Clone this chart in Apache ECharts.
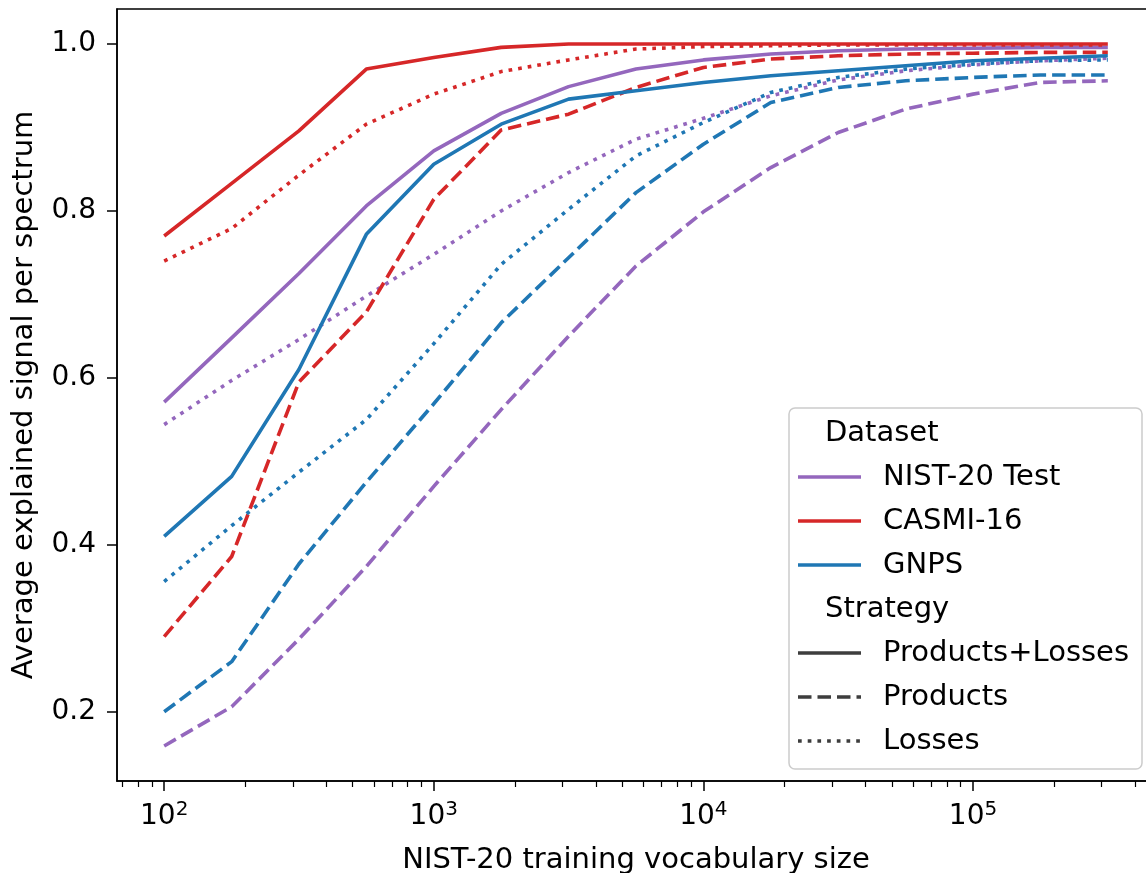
<!DOCTYPE html>
<html>
<head>
<meta charset="utf-8">
<script src="https://cdn.jsdelivr.net/npm/echarts@6/dist/echarts.min.js"></script>
<style>
  html, body { margin: 0; padding: 0; background: #fff; }
  #chart { width: 1146px; height: 873px; }
</style>
</head>
<body>
<div id="chart"></div>
<script>
const FONT = 'DejaVu Sans';

// vocabulary sizes (x) and explained signal per dataset / strategy
const sizes = [100, 178, 316, 562, 1000, 1778, 3162, 5623, 10000, 17783, 31623, 56234, 100000, 177828, 316228];

const nistBoth = [0.571, 0.648, 0.725, 0.806, 0.872, 0.917, 0.949, 0.970, 0.981, 0.988, 0.992, 0.994, 0.995, 0.996, 0.996];
const nistProducts = [0.159, 0.206, 0.287, 0.374, 0.470, 0.562, 0.650, 0.734, 0.799, 0.852, 0.894, 0.922, 0.940, 0.954, 0.956];
const nistLosses = [0.544, 0.597, 0.646, 0.698, 0.748, 0.800, 0.846, 0.886, 0.911, 0.938, 0.957, 0.968, 0.975, 0.980, 0.983];

const casmiBoth = [0.770, 0.833, 0.896, 0.970, 0.984, 0.996, 1.0, 1.0, 1.0, 1.0, 1.0, 1.0, 1.0, 1.0, 1.0];
const casmiProducts = [0.290, 0.386, 0.595, 0.679, 0.814, 0.897, 0.916, 0.948, 0.972, 0.982, 0.986, 0.988, 0.989, 0.990, 0.990];
const casmiLosses = [0.740, 0.779, 0.843, 0.904, 0.940, 0.967, 0.981, 0.994, 0.997, 0.998, 0.999, 0.999, 0.999, 0.999, 0.999];

const gnpsBoth = [0.410, 0.482, 0.610, 0.772, 0.856, 0.904, 0.934, 0.944, 0.954, 0.962, 0.968, 0.974, 0.980, 0.983, 0.986];
const gnpsProducts = [0.200, 0.260, 0.377, 0.475, 0.569, 0.666, 0.744, 0.822, 0.880, 0.930, 0.948, 0.956, 0.960, 0.963, 0.963];
const gnpsLosses = [0.356, 0.423, 0.487, 0.550, 0.641, 0.736, 0.802, 0.866, 0.906, 0.942, 0.960, 0.970, 0.976, 0.980, 0.981];

const xMajorTicks = [100, 1000, 10000, 100000];
const xMinorTicks = [70, 80, 90, 200, 300, 400, 500, 600, 700, 800, 900,
  2000, 3000, 4000, 5000, 6000, 7000, 8000, 9000,
  20000, 30000, 40000, 50000, 60000, 70000, 80000, 90000,
  200000, 300000, 400000];
const yTicks = [0.2, 0.4, 0.6, 0.8, 1.0];

const datasets = ['NIST-20 Test', 'CASMI-16', 'GNPS'];
const strategies = ['Products+Losses', 'Products', 'Losses'];

const colors = { 'NIST-20 Test': '#9467bd', 'CASMI-16': '#d62728', 'GNPS': '#1f77b4' };
const dashes = { 'Products+Losses': 'solid', 'Products': [13.5, 6], 'Losses': [3.7, 6] };

const values = {
  'NIST-20 Test': { 'Products+Losses': nistBoth, 'Products': nistProducts, 'Losses': nistLosses },
  'CASMI-16': { 'Products+Losses': casmiBoth, 'Products': casmiProducts, 'Losses': casmiLosses },
  'GNPS': { 'Products+Losses': gnpsBoth, 'Products': gnpsProducts, 'Losses': gnpsLosses },
};

const LW = 3.6;

const series = [];
datasets.forEach((ds) => {
  strategies.forEach((st) => {
    series.push({
      name: ds + ' / ' + st,
      type: 'line',
      data: sizes.map((s, i) => [s, values[ds][st][i]]),
      showSymbol: false,
      symbol: 'none',
      silent: true,
      animation: false,
      lineStyle: { color: colors[ds], width: LW, type: dashes[st], cap: 'butt', join: 'round' },
    });
  });
});

// legend drawn as graphic (two titled groups, like the source figure)
const legendX = 789;
const legendY = 408;
const handleX0 = 798;
const handleX1 = 861;
const labelX = 883;
const rowH = 44;
const legendRows = [
  { title: 'Dataset' },
  { label: 'NIST-20 Test', color: colors['NIST-20 Test'], dash: null },
  { label: 'CASMI-16', color: colors['CASMI-16'], dash: null },
  { label: 'GNPS', color: colors['GNPS'], dash: null },
  { title: 'Strategy' },
  { label: 'Products+Losses', color: '#3d3d3d', dash: null },
  { label: 'Products', color: '#3d3d3d', dash: [13.5, 6] },
  { label: 'Losses', color: '#3d3d3d', dash: [3.7, 6] },
];

const legendGraphics = [
  {
    type: 'rect',
    shape: { x: legendX, y: legendY, width: 353, height: 361, r: 6 },
    style: { fill: 'rgba(255,255,255,0.85)', stroke: '#cccccc', lineWidth: 1.5 },
    z: 100,
  },
];
legendRows.forEach((row, i) => {
  const cy = 433 + i * rowH;
  if (row.title) {
    legendGraphics.push({
      type: 'text',
      x: 825,
      y: cy,
      style: { text: row.title, font: '29px "' + FONT + '"', fill: '#000', verticalAlign: 'middle' },
      z: 101,
    });
    return;
  }
  legendGraphics.push({
    type: 'line',
    shape: { x1: handleX0, y1: cy, x2: handleX1, y2: cy },
    style: { stroke: row.color, lineWidth: LW, lineDash: row.dash || null, lineCap: 'butt' },
    z: 101,
  });
  legendGraphics.push({
    type: 'text',
    x: labelX,
    y: cy,
    style: { text: row.label, font: '29px "' + FONT + '"', fill: '#000', verticalAlign: 'middle' },
    z: 101,
  });
});

const chart = echarts.init(document.getElementById('chart'), null, { renderer: 'canvas' });

const xMin = Math.pow(10, 1.825);
const xMax = Math.pow(10, 5.675);

chart.setOption({
  animation: false,
  backgroundColor: '#fff',
  grid: {
    left: 117,
    top: 9,
    width: 1038,
    height: 772,
    outerBoundsMode: 'none',
    containLabel: false,
    show: true,
    borderColor: '#000',
    borderWidth: 1.5,
    backgroundColor: 'transparent',
  },
  xAxis: [
    {
      type: 'log',
      logBase: 10,
      min: xMin,
      max: xMax,
      position: 'bottom',
      name: 'NIST-20 training vocabulary size',
      nameLocation: 'middle',
      nameGap: 65,
      nameTextStyle: { fontFamily: FONT, fontSize: 29, color: '#000' },
      axisLine: { show: true, lineStyle: { color: '#000', width: 1.5 } },
      axisTick: { show: true, length: 10, lineStyle: { color: '#000', width: 1.5 }, customValues: xMajorTicks },
      axisLabel: {
        customValues: xMajorTicks,
        margin: 19,
        formatter: (v) => '{b|10}{s|' + Math.round(Math.log10(v)) + '}',
        rich: {
          b: { fontFamily: FONT, fontSize: 28, color: '#000', lineHeight: 34 },
          s: { fontFamily: FONT, fontSize: 20, color: '#000', lineHeight: 20, verticalAlign: 'top' },
        },
      },
      splitLine: { show: false },
      minorTick: { show: false },
    },
    {
      type: 'log',
      logBase: 10,
      min: xMin,
      max: xMax,
      position: 'bottom',
      axisLine: { show: false },
      axisTick: { show: true, length: 6, lineStyle: { color: '#000', width: 1.2 }, customValues: xMinorTicks },
      axisLabel: { show: false },
      splitLine: { show: false },
    },
  ],
  yAxis: {
    type: 'value',
    min: 0.117,
    max: 1.042,
    name: 'Average explained signal per spectrum',
    nameLocation: 'middle',
    nameGap: 78,
    nameTextStyle: { fontFamily: FONT, fontSize: 29, color: '#000' },
    axisLine: { show: true, lineStyle: { color: '#000', width: 1.5 } },
    axisTick: { show: true, length: 10, lineStyle: { color: '#000', width: 1.5 }, customValues: yTicks },
    axisLabel: {
      customValues: yTicks,
      margin: 21,
      fontFamily: FONT,
      fontSize: 28,
      color: '#000',
      formatter: (v) => v.toFixed(1),
    },
    splitLine: { show: false },
  },
  series: series,
  graphic: legendGraphics,
});
</script>
</body>
</html>
